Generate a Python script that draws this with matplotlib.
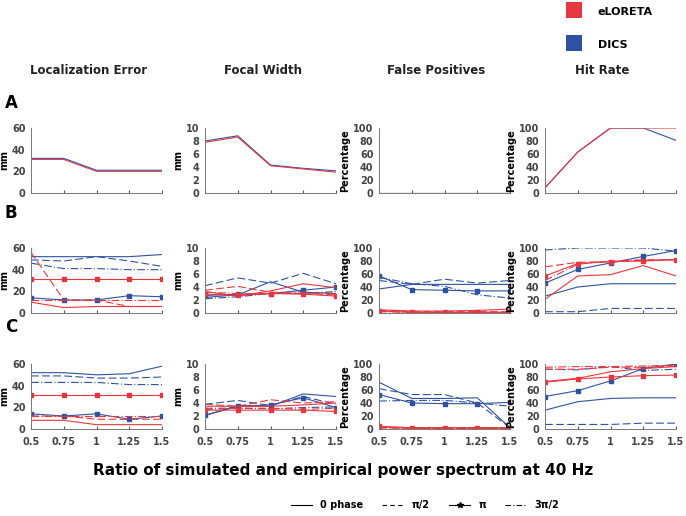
import matplotlib
matplotlib.use("Agg")
import matplotlib.pyplot as plt
import matplotlib.patches as mpatches
from matplotlib.lines import Line2D

RED = "#e8363f"
BLUE = "#2f52a0"

ratio = [0.5, 0.75, 1, 1.25, 1.5]
xtick_labels = ["0.5", "0.75", "1", "1.25", "1.5"]
col_titles = ["Localization Error", "Focal Width", "False Positives", "Hit Rate"]
row_letters = ["A", "B", "C"]
col_units = ["mm", "mm", "Percentage", "Percentage"]
col_ymax = [60, 10, 100, 100]
col_ystep = [20, 2, 20, 20]

# phase keys: "0" = 0 phase, "h" = pi/2, "p" = pi, "t" = 3pi/2
# ---- Row A
le_a_elo = {"0": [31, 31, 20, 20, 20]}
le_a_dics = {"0": [32, 32, 21, 21, 21]}
fw_a_elo = {"0": [7.8, 8.6, 4.2, 3.7, 3.2]}
fw_a_dics = {"0": [8.0, 8.8, 4.3, 3.8, 3.4]}
fp_a_elo = {"0": [0, 0, 0, 0, 0]}
fp_a_dics = {"0": [0.5, 0.5, 0.5, 0.5, 0.5]}
hr_a_dics = {"0": [8, 63, 100, 100, 81]}
hr_a_elo = {"0": [8, 63, 100, 100, 100]}

# ---- Row B
le_b_dics = {"0": [52, 52, 52, 52, 54], "h": [49, 48, 52, 48, 43],
             "p": [14, 12, 12, 16, 15], "t": [46, 41, 41, 40, 40]}
le_b_elo = {"0": [10, 5, 6, 6, 6], "h": [56, 12, 12, 6, 6],
            "p": [31, 31, 31, 31, 31], "t": [12, 12, 12, 12, 12]}
fw_b_dics = {"0": [2.4, 2.8, 4.8, 3.2, 3.0], "h": [4.2, 5.4, 4.6, 6.1, 4.5],
             "p": [2.7, 2.9, 3.0, 3.5, 4.0], "t": [2.2, 2.5, 3.0, 3.0, 3.3]}
fw_b_elo = {"0": [3.3, 2.6, 3.4, 4.5, 3.9], "h": [3.5, 4.1, 3.2, 3.0, 2.8],
            "p": [2.9, 2.7, 3.0, 2.9, 2.6], "t": [3.2, 3.0, 3.0, 3.1, 3.0]}
fp_b_dics = {"0": [37, 44, 44, 44, 44], "h": [50, 44, 52, 46, 50],
             "p": [57, 36, 35, 34, 34], "t": [55, 45, 41, 28, 23]}
fp_b_elo = {"0": [5, 3, 3, 4, 6], "h": [4, 2, 2, 2, 2],
            "p": [3, 1, 1, 1, 1], "t": [2, 1, 1, 1, 1]}
hr_b_dics = {"0": [26, 40, 45, 45, 45], "h": [2, 2, 7, 7, 7],
             "p": [46, 67, 77, 87, 96], "t": [97, 100, 100, 100, 95]}
hr_b_elo = {"0": [21, 57, 59, 73, 57], "h": [71, 78, 79, 81, 82],
            "p": [57, 76, 79, 80, 82], "t": [50, 75, 80, 82, 82]}

# ---- Row C
le_c_dics = {"0": [52, 52, 50, 51, 58], "h": [49, 49, 47, 47, 48],
             "p": [14, 12, 14, 9, 12], "t": [43, 43, 43, 41, 41]}
le_c_elo = {"0": [8, 8, 4, 4, 4], "h": [12, 12, 9, 9, 9],
            "p": [31, 31, 31, 31, 31], "t": [12, 12, 12, 12, 12]}
fw_c_dics = {"0": [2.1, 3.6, 3.5, 5.4, 5.0], "h": [3.8, 4.4, 3.6, 5.0, 3.8],
             "p": [2.1, 3.5, 3.7, 4.8, 3.3], "t": [3.2, 3.2, 3.1, 3.3, 3.4]}
fw_c_elo = {"0": [3.5, 3.5, 3.5, 3.7, 4.0], "h": [3.8, 3.5, 4.5, 4.0, 4.2],
            "p": [2.9, 2.9, 2.9, 2.9, 2.7], "t": [3.0, 3.2, 3.2, 3.0, 3.2]}
fp_c_dics = {"0": [72, 47, 47, 48, 2], "h": [62, 53, 53, 40, 2],
             "p": [53, 40, 39, 39, 41], "t": [43, 44, 44, 40, 35]}
fp_c_elo = {"0": [3, 2, 2, 2, 2], "h": [2, 1, 1, 1, 1],
            "p": [4, 2, 2, 2, 2], "t": [2, 1, 1, 1, 1]}
hr_c_dics = {"0": [29, 42, 47, 48, 48], "h": [7, 7, 7, 9, 9],
             "p": [50, 59, 74, 93, 100], "t": [92, 91, 96, 90, 92]}
hr_c_elo = {"0": [73, 78, 88, 93, 96], "h": [92, 92, 95, 95, 97],
            "p": [72, 77, 80, 82, 83], "t": [95, 96, 96, 97, 98]}

panels = [
    [(le_a_elo, le_a_dics), (fw_a_elo, fw_a_dics), (fp_a_elo, fp_a_dics), (hr_a_elo, hr_a_dics)],
    [(le_b_elo, le_b_dics), (fw_b_elo, fw_b_dics), (fp_b_elo, fp_b_dics), (hr_b_elo, hr_b_dics)],
    [(le_c_elo, le_c_dics), (fw_c_elo, fw_c_dics), (fp_c_elo, fp_c_dics), (hr_c_elo, hr_c_dics)],
]

STYLE = {
    "0": dict(ls="-"),
    "h": dict(ls=(0, (7, 3))),
    "p": dict(ls="-", marker="s", ms=2.8),
    "t": dict(ls=(0, (7, 2, 1, 2))),
}

fig = plt.figure(figsize=(6.86, 5.16), dpi=100)
W, H = 686.0, 516.0
lefts = [31, 205, 379, 545]
width = 131
row_bottom = [193, 313, 429]
height = 65

for r in range(3):
    for c in range(4):
        ax = fig.add_axes([lefts[c] / W, (H - row_bottom[r]) / H, width / W, height / H])
        elo, dics = panels[r][c]
        # DICS first so eLORETA sits on top
        for data, color in ((dics, BLUE), (elo, RED)):
            for key, vals in data.items():
                ax.plot(ratio, vals, color=color, lw=0.8, mec=color, mfc=color,
                        **STYLE[key])
        ax.set_xlim(0.5, 1.5)
        ax.set_ylim(0, col_ymax[c])
        ax.set_yticks(range(0, col_ymax[c] + 1, col_ystep[c]))
        ax.set_xticks(ratio)
        if r == 2:
            ax.set_xticklabels(xtick_labels)
        else:
            ax.set_xticklabels([])
        ax.tick_params(axis="x", direction="in", length=2, labelsize=7,
                       colors="#555555", pad=6)
        ax.tick_params(axis="y", direction="in", length=0, labelsize=7,
                       colors="#555555", pad=4)
        for lab in ax.get_xticklabels() + ax.get_yticklabels():
            lab.set_color("#444444")
            lab.set_fontweight("semibold")
        ax.spines["top"].set_visible(False)
        ax.spines["right"].set_visible(False)
        for side in ("left", "bottom"):
            ax.spines[side].set_color("#777777")
            ax.spines[side].set_linewidth(0.7)
        ax.set_ylabel(col_units[c], fontsize=7, fontweight="bold", labelpad=2)
        ax.patch.set_alpha(0)

# column titles
for c, title in enumerate(col_titles):
    fig.text((lefts[c] + width / 2 - 8) / W, 1 - 70 / H, title, ha="center",
             va="center", fontsize=8.5, fontweight="bold", color="#222222")

# row letters
for letter, y in zip(row_letters, [103, 213, 327]):
    fig.text(5 / W, 1 - y / H, letter, ha="left", va="center", fontsize=12,
             fontweight="bold")

# method legend (top right)
for y, color, name in ((10, RED, "eLORETA"), (43, BLUE, "DICS")):
    fig.patches.append(mpatches.Rectangle((566 / W, 1 - (y + 8) / H), 16 / W, 16 / H,
                                          transform=fig.transFigure,
                                          facecolor=color, edgecolor="none"))
    fig.text(598 / W, 1 - (y + 2) / H, name, ha="left", va="center",
             fontsize=8, fontweight="bold")

fig.text(343 / W, 1 - 470 / H,
         "Ratio of simulated and empirical power spectrum at 40 Hz",
         ha="center", va="center", fontsize=11, fontweight="bold")

handles = [
    Line2D([], [], color="black", lw=0.8, ls="-"),
    Line2D([], [], color="black", lw=0.8, ls=(0, (4, 3))),
    Line2D([], [], color="black", lw=0.8, ls="-", marker="*", ms=4,
           markevery=[1]),
    Line2D([], [], color="black", lw=0.8, ls=(0, (5, 2, 1, 2))),
]
fig.legend(handles, ["0 phase", "π/2", "π", "3π/2"], loc="center",
           bbox_to_anchor=(425 / W, 1 - 505 / H), ncol=4, frameon=False,
           handlelength=2.2, columnspacing=2.0,
           prop={"weight": "bold", "size": 7})

fig.savefig("out.png", dpi=100)
